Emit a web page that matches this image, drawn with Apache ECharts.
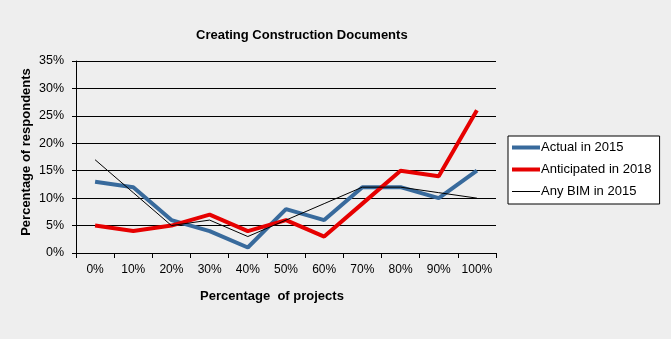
<!DOCTYPE html>
<html>
<head>
<meta charset="utf-8">
<script src="https://cdn.jsdelivr.net/npm/echarts@6/dist/echarts.min.js"></script>
<style>
html,body{margin:0;padding:0;background:#eeeeee;}
#c{width:671px;height:339px;}
</style>
</head>
<body>
<div id="c"></div>
<script>
const categories = ['0%','10%','20%','30%','40%','50%','60%','70%','80%','90%','100%'];
const actual2015 = [13, 12, 6, 4, 1, 8, 6, 12, 12, 10, 15];
const anticipated2018 = [5, 4, 5, 7, 4, 6, 3, 9, 15, 14, 26];
const anyBim2015 = [17, 11, 5, 6, 3, 6, 9, 12, 12, 11, 10];
const seriesNames = ['Actual in 2015', 'Anticipated in 2018', 'Any BIM in 2015'];

const font = 'Liberation Sans, Arial, sans-serif';
const thickIcon = 'path://M0,0L0.01,0L0.01,0.01Z M0,4.5L28,4.5L28,8.5L0,8.5Z M27.99,13L28,13L28,12.99Z';
const thinIcon = 'path://M0,0L0.01,0L0.01,0.01Z M0,6L28,6L28,7L0,7Z M27.99,13L28,13L28,12.99Z';
const chart = echarts.init(document.getElementById('c'), null, {renderer: 'canvas'});
chart.setOption({
  backgroundColor: '#eeeeee',
  animation: false,
  title: {
    text: 'Creating Construction Documents',
    left: 191, top: 24,
    textStyle: {fontFamily: font, fontSize: 13, fontWeight: 'bold', color: '#000'}
  },
  legend: {
    orient: 'vertical',
    left: 508, top: 136,
    width: 154,
    padding: [5, 8, 6, 4],
    itemGap: 9,
    itemWidth: 28, itemHeight: 13,
    borderColor: '#000', borderWidth: 1,
    backgroundColor: '#ffffff',
    textStyle: {fontFamily: font, fontSize: 13, color: '#000', padding: [0, 0, 0, -4]},
    data: [
      {name: seriesNames[0], icon: thickIcon},
      {name: seriesNames[1], icon: thickIcon},
      {name: seriesNames[2], icon: thinIcon}
    ]
  },
  grid: {left: 76, right: 175, top: 61, bottom: 86},
  xAxis: {
    type: 'category',
    data: categories,
    boundaryGap: true,
    name: 'Percentage  of projects',
    nameLocation: 'middle',
    nameGap: 37,
    nameTextStyle: {fontFamily: font, fontSize: 13, fontWeight: 'bold', color: '#000', padding: [0, 28, 0, 0]},
    axisLine: {lineStyle: {color: '#000', width: 1}},
    axisTick: {show: true, alignWithLabel: false, length: 5, lineStyle: {color: '#000'}},
    axisLabel: {fontFamily: font, fontSize: 12, color: '#000', margin: 11, interval: 0}
  },
  yAxis: {
    type: 'value',
    min: 0, max: 35, interval: 5,
    name: 'Percentage of respondents',
    nameLocation: 'middle',
    nameGap: 50,
    nameRotate: 90,
    nameMoveOverlap: false,
    nameTextStyle: {fontFamily: font, fontSize: 13, fontWeight: 'bold', color: '#000',
                    align: 'center', verticalAlign: 'middle', padding: [0, 0, 0, 10]},
    axisLine: {show: true, lineStyle: {color: '#000', width: 1}},
    axisTick: {show: true, length: 4, lineStyle: {color: '#000'}},
    axisLabel: {fontFamily: font, fontSize: 12.5, color: '#000', margin: 12, formatter: '{value}%'},
    splitLine: {show: true, lineStyle: {color: '#000', width: 1}}
  },
  series: [
    {name: seriesNames[0], type: 'line', data: actual2015, symbol: 'none',
     lineStyle: {color: '#386a9c', width: 4}, itemStyle: {color: '#386a9c'}, z: 3},
    {name: seriesNames[1], type: 'line', data: anticipated2018, symbol: 'none',
     lineStyle: {color: '#e60000', width: 4}, itemStyle: {color: '#e60000'}, z: 4},
    {name: seriesNames[2], type: 'line', data: anyBim2015, symbol: 'none',
     lineStyle: {color: '#000', width: 1}, itemStyle: {color: '#000'}, z: 5}
  ]
});
</script>
</body>
</html>
